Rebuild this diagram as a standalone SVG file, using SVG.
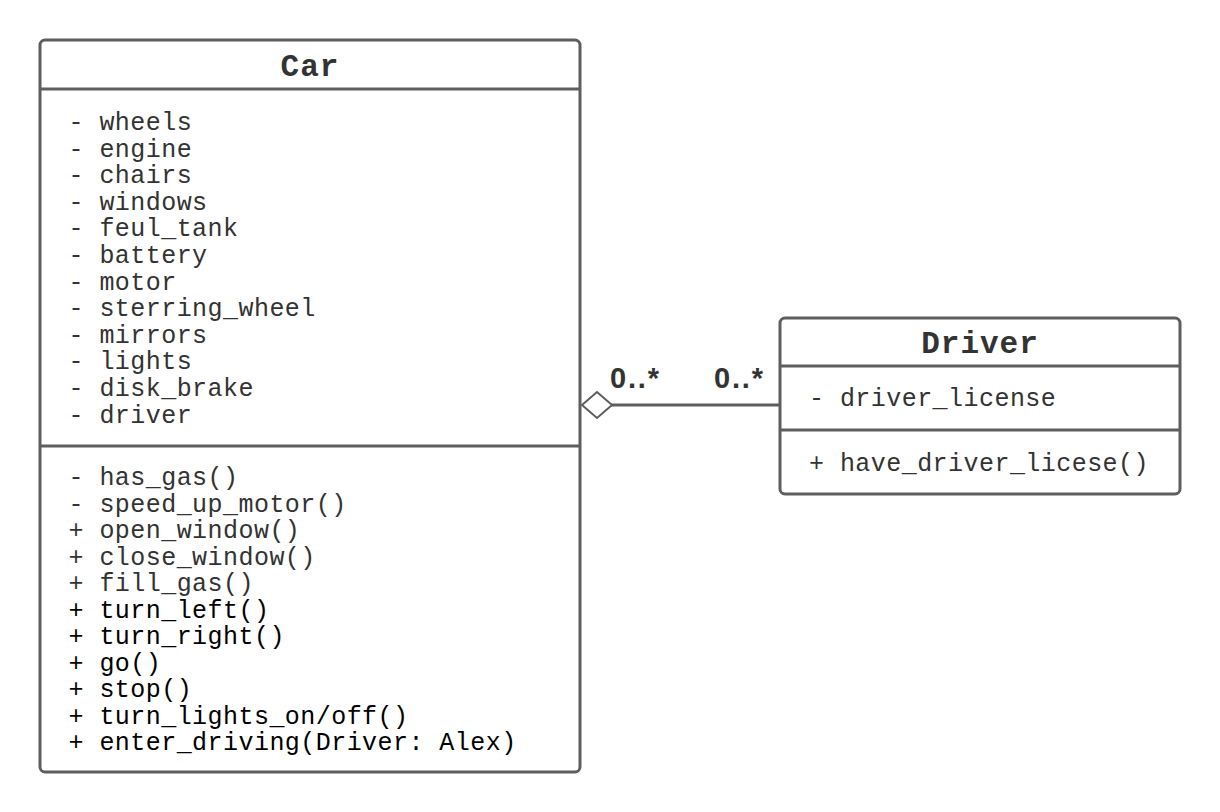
<svg xmlns="http://www.w3.org/2000/svg" width="1220" height="812" viewBox="0 0 1220 812">
<style>
.box{fill:#fff;stroke:#5e5e5e;stroke-width:3}
.div{stroke:#5e5e5e;stroke-width:3}
.t{font-family:"Liberation Mono",monospace;font-size:25px;letter-spacing:0.45px;fill:#333}
.k{fill:#000}
.h{font-family:"Liberation Mono",monospace;font-size:31px;font-weight:bold;letter-spacing:1px;fill:#333;text-anchor:middle}
.m{font-family:"Liberation Sans",Arial,sans-serif;font-size:29px;font-weight:bold;letter-spacing:1.8px;fill:#333}
</style>
<rect width="1220" height="812" fill="#fff"/>
<g id="connectors">
<line x1="611" y1="405" x2="780" y2="405" class="div" stroke-width="2"/>
<polygon points="582,405 597,392 612,405 597,418" fill="#fff" stroke="#5e5e5e" stroke-width="2"/>
<text x="610" y="388" class="m">0..*</text>
<text x="714" y="388" class="m">0..*</text>
</g>
<g id="car">
<rect x="40" y="40" width="540" height="732" rx="5" class="box"/>
<line x1="40" y1="89" x2="580" y2="89" class="div"/>
<line x1="40" y1="446" x2="580" y2="446" class="div"/>
<text x="310" y="76" class="h">Car</text>
<text class="t" x="68.5">
<tspan x="68.5" y="130">- wheels</tspan>
<tspan x="68.5" y="156.6">- engine</tspan>
<tspan x="68.5" y="183.2">- chairs</tspan>
<tspan x="68.5" y="209.8">- windows</tspan>
<tspan x="68.5" y="236.4">- feul_tank</tspan>
<tspan x="68.5" y="263">- battery</tspan>
<tspan x="68.5" y="289.6">- motor</tspan>
<tspan x="68.5" y="316.2">- sterring_wheel</tspan>
<tspan x="68.5" y="342.8">- mirrors</tspan>
<tspan x="68.5" y="369.4">- lights</tspan>
<tspan x="68.5" y="396">- disk_brake</tspan>
<tspan x="68.5" y="422.6">- driver</tspan>
</text>
<text class="t" x="68.5">
<tspan x="68.5" y="485">- has_gas()</tspan>
<tspan x="68.5" y="511.5">- speed_up_motor()</tspan>
<tspan x="68.5" y="538">+ open_window()</tspan>
<tspan x="68.5" y="564.5">+ close_window()</tspan>
<tspan x="68.5" y="591">+ fill_gas()</tspan>
<tspan x="68.5" y="617.5" class="k">+ turn_left()</tspan>
<tspan x="68.5" y="644" class="k">+ turn_right()</tspan>
<tspan x="68.5" y="670.5" class="k">+ go()</tspan>
<tspan x="68.5" y="697" class="k">+ stop()</tspan>
<tspan x="68.5" y="723.5" class="k">+ turn_lights_on/off()</tspan>
<tspan x="68.5" y="750" class="k">+ enter_driving(Driver: Alex)</tspan>
</text>
</g>
<g id="driver">
<rect x="780" y="318" width="400" height="176" rx="5" class="box"/>
<line x1="780" y1="366" x2="1180" y2="366" class="div"/>
<line x1="780" y1="430" x2="1180" y2="430" class="div"/>
<text x="980" y="353" class="h">Driver</text>
<text x="809" y="406" class="t">- driver_license</text>
<text x="809" y="471" class="t">+ have_driver_licese()</text>
</g>
</svg>
